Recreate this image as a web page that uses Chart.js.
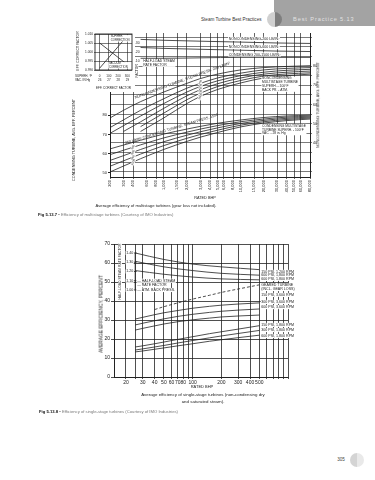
<!DOCTYPE html>
<html lang="en">
<head>
<meta charset="utf-8">
<title>Best Practice 5.13 - turbine efficiency</title>
<script src="https://cdn.jsdelivr.net/npm/chart.js@4.4.1/dist/chart.umd.min.js"></script>
<style>
  html, body { margin: 0; padding: 0; background: #fff; }
  body { position: relative; width: 375px; height: 480px; overflow: hidden;
         font-family: "Liberation Sans", Arial, sans-serif; color: #222; }
  canvas { position: absolute; }
  .t { position: absolute; white-space: nowrap; line-height: 1; }
  .l { transform: translate(0, -50%); }
  .c { transform: translate(-50%, -50%); }
  .v { transform: translate(-50%, -50%) rotate(-90deg); }
  #tab { position: absolute; left: 274px; top: 0; width: 101px; height: 26px; background: #a3a3a3; }
  #tabDot { position: absolute; left: 267px; top: 12px; width: 15px; height: 15px; border-radius: 50%;
            background: linear-gradient(90deg, #d0d0d0 50%, #7e7e7e 50%); }
  #pageDot { position: absolute; left: 350px; top: 453px; width: 14px; height: 14px; border-radius: 50%;
             background: linear-gradient(90deg, #d4d4d4 50%, #e9e9e9 50%); }
  .cap b { color: #111; }
  .cap span { color: #777; }
</style>
</head>
<body>
<div id="tab"></div><div id="tabDot"></div>
<div class="t l" style="left:201px;top:20px;font-size:4.6px;color:#333">Steam Turbine Best Practices</div>
<div class="t l" style="left:293px;top:19.5px;font-size:5.6px;letter-spacing:0.9px;color:#e2e2e2">Best Practice 5.13</div>

<canvas id="multi" width="300" height="172" style="left:40px;top:28px"></canvas>
<canvas id="inset" width="61" height="64" style="left:74px;top:28px"></canvas>
<div class="t v" style="left:79px;top:51px;font-size:3.4px">EFF. CORRECT FACTOR</div>
<div class="t v" style="left:75px;top:140px;font-size:3.8px">CONDENSING TURBINE, AVG. EFF. PERCENT</div>
<div class="t v" style="left:319px;top:105px;font-size:3.6px">NONCONDENSING TURBINE, AVG. EFF. PERCENT</div>
<div class="t c" style="left:205px;top:199px;font-size:3.8px">RATED BHP</div>
<div class="t c" style="left:156px;top:206px;font-size:4.2px">Average efficiency of multistage turbines (gear loss not included).</div>
<div class="t l cap" style="left:38px;top:215px;font-size:4.2px"><b>Fig 5.13.7</b> &bull; <span>Efficiency of multistage turbines (Courtesy of IMO Industries)</span></div>

<canvas id="single" width="220" height="152" style="left:80px;top:238px"></canvas>
<div class="t v" style="left:102px;top:314px;font-size:4.8px">AVERAGE EFFICIENCY, PERCENT</div>
<div class="t c" style="left:202px;top:387px;font-size:4px">RATED BHP</div>
<div class="t c" style="left:203px;top:395px;font-size:4.4px">Average efficiency of single-stage turbines (non-condensing dry</div>
<div class="t c" style="left:203px;top:402px;font-size:4.4px">and saturated steam).</div>
<div class="t l cap" style="left:39px;top:412px;font-size:4.2px"><b>Fig 5.13.8</b> &bull; <span>Efficiency of single-stage turbines (Courtesy of IMO Industries)</span></div>

<div class="t c" style="left:341px;top:460px;font-size:4.6px;color:#444">305</div>
<div id="pageDot"></div>

<script>
const INK = "#222"
const FONT = '"Liberation Sans", Arial, sans-serif'

// ---------- Fig 5.13.7 : multistage turbines ----------
const bhpTicks1 = [200, 300, 400, 600, 800, 1000, 1500, 2000, 3000, 4000, 5000, 6000, 8000, 10000, 15000, 20000, 30000, 40000, 50000, 60000, 80000]
const ncGridLines = [25, 30, 35, 40, 45, 50, 55, 60, 65, 70, 75, 80, 85, 90, 95]
const ncTickLabels = [40, 50, 60, 70, 80]
const condTickLabels = [50, 60, 70, 80]
const effBhp1 = [200, 300, 500, 1000, 2000, 3000, 5000, 10000, 20000, 40000, 80000]
const nonCond200 = [53, 57, 61.5, 66.5, 71, 73.5, 75.8, 78, 79.2, 79.8, 80.2]
const nonCond400 = [48, 52, 57, 63, 68.5, 71, 73.8, 76.3, 78, 78.8, 79.2]
const nonCond600 = [45, 49, 54, 60.5, 66.5, 69.4, 72.3, 75, 76.8, 77.8, 78.3]
const nonCond850 = [null, 46, 51, 58, 64.5, 67.7, 70.8, 73.8, 75.8, 76.8, 77.4]
const nonCond1200 = [null, null, 48.5, 55.5, 62.5, 65.9, 69.3, 72.5, 74.8, 75.9, 76.5]
const nonCond1500 = [null, null, 46, 53, 60.5, 64.2, 67.8, 71.2, 73.8, 75, 75.8]
const cond250 = [62.5, 64.5, 67, 70.2, 72.8, 74.2, 75.8, 77.5, 78.8, 79.6, 80]
const cond400 = [59.5, 61.8, 64.6, 68.2, 71.2, 72.8, 74.6, 76.6, 78, 79, 79.5]
const cond600 = [56.5, 59, 62.2, 66.2, 69.6, 71.4, 73.4, 75.7, 77.3, 78.4, 79]
const cond850 = [53.5, 56.3, 59.8, 64.2, 68, 70, 72.2, 74.8, 76.6, 77.8, 78.5]
const cond1500 = [50.5, 53.6, 57.4, 62.2, 66.4, 68.6, 71, 73.9, 75.9, 77.2, 78]
const halfBhp1 = [500, 1000, 3000, 10000, 30000, 80000]
const halfNonCond200 = [1.34, 1.33, 1.32, 1.31, 1.3, 1.295]
const halfNonCond600 = [1.25, 1.24, 1.23, 1.22, 1.21, 1.205]
const halfCond = [1.13, 1.13, 1.135, 1.14, 1.14, 1.14]
const factorTicks1 = [1.1, 1.2, 1.3]

// inset: efficiency correction factors
const superhF = [0, 100, 200, 300]
const superhFactor = [0.991, 0.997, 1.003, 1.009]
const vacInHg = [26, 27, 28, 29]
const vacFactor = [1.005, 1.001, 0.997, 0.993]
const insetTicks = [0.99, 0.995, 1.0, 1.005, 1.01]

// ---------- Fig 5.13.8 : single-stage turbines ----------
const bhpGrid2 = [20, 25, 30, 40, 50, 60, 70, 80, 90, 100, 200, 300, 400, 500, 600, 700, 800, 900, 1000]
const bhpTicks2 = [20, 30, 40, 50, 60, 70, 80, 100, 200, 300, 400, 500]
const effTicks2 = [0, 10, 20, 30, 40, 50, 60, 70]
const effBhp2 = [25, 30, 40, 50, 70, 100, 150, 200, 300, 500]
const psi150rpm3600 = [30.5, 31.4, 32.8, 33.8, 35, 36.2, 37.2, 37.8, 38.4, 39]
const psi300rpm3600 = [27.4, 28.3, 29.6, 30.6, 31.9, 33, 34, 34.6, 35.2, 35.8]
const psi600rpm3600 = [24.7, 25.6, 26.9, 27.9, 29.1, 30.1, 31, 31.6, 32.1, 32.6]
const psi150rpm1800 = [15.8, 16.4, 17.5, 18.4, 19.8, 21.2, 22.8, 23.8, 25.2, 27]
const psi300rpm1800 = [14.2, 14.8, 15.8, 16.6, 17.9, 19.2, 20.6, 21.6, 22.9, 24.5]
const psi600rpm1800 = [13.2, 13.7, 14.6, 15.3, 16.4, 17.5, 18.8, 19.6, 20.7, 22]
const gearedBhp = [40, 50, 70, 100, 150, 200, 300, 500]
const gearedEff = [35.5, 37, 39, 41, 43, 44.5, 46.3, 48.5]
const halfBhp2 = [25, 50, 100, 200, 500]
const halfFactorA = [1.4, 1.33, 1.28, 1.25, 1.22]
const halfFactorB = [1.31, 1.25, 1.21, 1.18, 1.16]
const halfFactorC = [1.21, 1.17, 1.14, 1.12, 1.11]
const factorTicks2 = [1.0, 1.1, 1.2, 1.3, 1.4]

// curve labels: [text, x (bhp), value, axis, rotation, size]
const multiNotes = [
  ["NONCONDENSING TURBINE, STEAM PRESS. 200 LB/IN\u00b2", 420, 63.5, "yNC", -20, 3.8],
  ["250 LB/IN\u00b2 CONDENSING TURBINE, STEAM PRESS. 1500", 316, 65.5, "yC", -17, 3.6],
  ["NONCONDENSING-200 LB/IN\u00b2", 7000, 1.345, "yF", 0, 3.6],
  ["NONCONDENSING-600 LB/IN\u00b2", 7000, 1.255, "yF", 0, 3.6],
  ["CONDENSING 200-1500 LB/IN\u00b2", 7000, 1.172, "yF", 0, 3.6],
  ["HALF-LOAD STEAM\nRATE FACTOR", 540, 1.1, "yF", 0, 3.4],
  ["NONCONDENSING\nMULTISTAGE TURBINE\nSUPERH. - 100\u00b0F\nBACK PR. - ATM.", 19000, 73.5, "yNC", 0, 3.3],
  ["CONDENSING MULTISTAGE\nTURBINE SUPERH. - 100\u00b0F\nVAC. - 28 in. Hg", 19000, 74.5, "yC", 0, 3.3]
]
const ncPressLabels = [["400", 3000, 71.5], ["600", 3000, 69.4], ["850", 3000, 67.7], ["1200", 3000, 65.9], ["1500", 3000, 64.2]]
const condPressLabels = [["400", 400, 63.3], ["600", 400, 60.7], ["850", 400, 58], ["1500", 400, 55.6]]
const singleNotes = [
  ["150 PSI, 1,200 RPM", 55.3], ["600 PSI, 1,800 RPM", 53.5], ["600 PSI, 1,800 RPM", 51.6],
  ["GEARED TURBINE", 48.4], ["(INCL. GEAR LOSS)", 46.3],
  ["150 PSI, 3,600 RPM", 43.2], ["300 PSI, 3,600 RPM", 39.5], ["600 PSI, 3,600 RPM", 36.8],
  ["150 PSI, 1,800 RPM", 27.4], ["300 PSI, 1,800 RPM", 24.7], ["600 PSI, 1,800 RPM", 21.6]
]

function curve(xs, ys, axis, extra) {
  return Object.assign({
    data: xs.map((x, i) => ({ x, y: ys[i] })).filter(p => p.y != null),
    yAxisID: axis,
    borderColor: INK,
    borderWidth: 0.8,
    pointRadius: 0,
    cubicInterpolationMode: "monotone",
    fill: false,
  }, extra)
}

function font(size, bold) {
  return (bold ? "bold " : "") + size + "px " + FONT
}

// draws a block of text with a white box behind it
function drawText(ctx, text, x, y, size, opts = {}) {
  const lines = text.split("\n")
  const lh = size * 1.15
  ctx.save()
  ctx.translate(x, y)
  ctx.rotate(((opts.rot || 0) * Math.PI) / 180)
  ctx.font = font(size, opts.bold)
  ctx.textAlign = opts.align || "left"
  ctx.textBaseline = "middle"
  if (opts.bg !== false) {
    const w = Math.max(...lines.map(l => ctx.measureText(l).width))
    const x0 = ctx.textAlign === "right" ? -w : ctx.textAlign === "center" ? -w / 2 : 0
    ctx.fillStyle = "#fff"
    ctx.fillRect(x0 - 0.6, -lh / 2, w + 1.2, lh * lines.length)
  }
  ctx.fillStyle = INK
  lines.forEach((l, i) => ctx.fillText(l, 0, i * lh))
  ctx.restore()
}

const baseOpts = {
  responsive: false,
  animation: false,
  events: [],
  plugins: { legend: { display: false }, tooltip: { enabled: false } },
}

// ---- multistage chart ----
const multiPlugin = {
  id: "multiNotes",
  afterDatasetsDraw(chart) {
    const { ctx, scales } = chart
    const x = scales.x
    // half-load factor axis labels
    const fx = x.getPixelForValue(500) - 1
    factorTicks1.forEach(v => {
      drawText(ctx, v.toFixed(2), fx, scales.yF.getPixelForValue(v), 3.4, { align: "right" })
    })
    drawText(ctx, "FACTOR", fx - 3, scales.yF.getPixelForValue(0.99), 3.3, { rot: -90, align: "center" })
    multiNotes.forEach(([text, bx, val, axis, rot, size]) => {
      drawText(ctx, text, x.getPixelForValue(bx), scales[axis].getPixelForValue(val), size, { rot, bg: rot === 0 })
    })
    ncPressLabels.forEach(([text, bx, val]) => {
      drawText(ctx, text, x.getPixelForValue(bx), scales.yNC.getPixelForValue(val), 3, { rot: -65, align: "center" })
    })
    condPressLabels.forEach(([text, bx, val]) => {
      drawText(ctx, text, x.getPixelForValue(bx), scales.yC.getPixelForValue(val), 3, { rot: -65, align: "center" })
    })
  },
}

new Chart(document.getElementById("multi"), {
  type: "line",
  data: {
    datasets: [
      curve(effBhp1, nonCond200, "yNC"),
      curve(effBhp1, nonCond400, "yNC"),
      curve(effBhp1, nonCond600, "yNC"),
      curve(effBhp1, nonCond850, "yNC"),
      curve(effBhp1, nonCond1200, "yNC"),
      curve(effBhp1, nonCond1500, "yNC"),
      curve(effBhp1, cond250, "yC"),
      curve(effBhp1, cond400, "yC"),
      curve(effBhp1, cond600, "yC"),
      curve(effBhp1, cond850, "yC"),
      curve(effBhp1, cond1500, "yC"),
      curve(halfBhp1, halfNonCond200, "yF"),
      curve(halfBhp1, halfNonCond600, "yF"),
      curve(halfBhp1, halfCond, "yF"),
    ],
  },
  options: {
    ...baseOpts,
    layout: { padding: { top: 5, left: 0, right: 0, bottom: 0 } },
    scales: {
      x: {
        type: "logarithmic",
        min: 200,
        max: 80000,
        afterBuildTicks: s => { s.ticks = bhpTicks1.map(v => ({ value: v })) },
        afterFit: s => { s.height = 23 },
        ticks: {
          autoSkip: false, minRotation: 90, maxRotation: 90, padding: 1,
          color: INK, font: { size: 4, family: FONT },
          callback: v => Number(v).toLocaleString("en-US"),
        },
        grid: { color: INK, lineWidth: 0.7, tickLength: 2 },
        border: { color: INK, width: 1 },
      },
      yC: {
        position: "left",
        min: 47.9,
        max: 122.7,
        afterBuildTicks: s => { s.ticks = condTickLabels.map(v => ({ value: v })) },
        afterFit: s => { s.width = 70 },
        ticks: { padding: 1, color: INK, font: { size: 4, family: FONT } },
        grid: { drawOnChartArea: false, color: INK, tickLength: 2 },
        border: { color: INK, width: 1 },
      },
      yNC: {
        position: "right",
        min: 22.3,
        max: 97.2,
        afterBuildTicks: s => { s.ticks = ncGridLines.map(v => ({ value: v })) },
        afterFit: s => { s.width = 30 },
        ticks: {
          autoSkip: false, padding: 1, color: INK, font: { size: 3.6, family: FONT },
          callback: v => (ncTickLabels.includes(v) ? v : ""),
        },
        grid: { color: INK, lineWidth: 0.6, tickLength: 2 },
        border: { color: INK, width: 1 },
      },
      yF: { display: false, min: -0.189, max: 1.411 },
    },
  },
  plugins: [multiPlugin],
})

// ---- correction factor inset ----
const insetPlugin = {
  id: "insetDecor",
  beforeDraw(chart) {
    const { ctx, width, height } = chart
    ctx.save()
    ctx.fillStyle = "#fff"
    ctx.fillRect(0, 0, width, height)
    ctx.restore()
  },
  afterDatasetsDraw(chart) {
    const { ctx, chartArea: a, scales } = chart
    ctx.save()
    ctx.strokeStyle = INK
    ctx.lineWidth = 0.9
    ctx.strokeRect(a.left, a.top, a.right - a.left, a.bottom - a.top)
    ctx.restore()
    const r1 = a.bottom + 6, r2 = a.bottom + 10
    drawText(ctx, "SUPERH. \u00b0F", 1, r1, 3, { bg: false })
    drawText(ctx, "VAC. IN Hg", 1, r2, 3, { bg: false })
    superhF.forEach(v => drawText(ctx, String(v), scales.xS.getPixelForValue(v), r1, 3, { align: "center", bg: false }))
    vacInHg.forEach(v => drawText(ctx, String(v), scales.xV.getPixelForValue(v), r2, 3, { align: "center", bg: false }))
    drawText(ctx, "EFF. CORRECT FACTOR", (a.left + a.right) / 2, a.bottom + 18, 3, { align: "center", bg: false })
    drawText(ctx, "SUPERH.\nCORRECTION", scales.xS.getPixelForValue(120), scales.y.getPixelForValue(1.0085), 2.8, {})
    drawText(ctx, "VACUUM\nCORRECTION", scales.xS.getPixelForValue(100), scales.y.getPixelForValue(0.9935), 2.8, {})
  },
}

new Chart(document.getElementById("inset"), {
  type: "line",
  data: {
    datasets: [
      curve(superhF, superhFactor, "y", { xAxisID: "xS" }),
      curve(vacInHg, vacFactor, "y", { xAxisID: "xV" }),
    ],
  },
  options: {
    ...baseOpts,
    layout: { padding: { top: 6, left: 0, right: 3, bottom: 22 } },
    scales: {
      xS: {
        type: "linear", position: "bottom", min: -50, max: 350,
        afterBuildTicks: s => { s.ticks = superhF.map(v => ({ value: v })) },
        ticks: { display: false },
        grid: { color: INK, lineWidth: 0.6, drawTicks: false },
        border: { display: false },
      },
      xV: { type: "linear", display: false, min: 25.5, max: 29.5 },
      y: {
        min: 0.99, max: 1.01,
        afterBuildTicks: s => { s.ticks = insetTicks.map(v => ({ value: v })) },
        afterFit: s => { s.width = 21 },
        ticks: { padding: 1, color: INK, font: { size: 3.2, family: FONT }, callback: v => Number(v).toFixed(3) },
        grid: { color: INK, lineWidth: 0.6, tickLength: 1 },
        border: { display: false },
      },
    },
  },
  plugins: [insetPlugin],
})

// ---- single-stage chart ----
const singlePlugin = {
  id: "singleNotes",
  afterDatasetsDraw(chart) {
    const { ctx, scales } = chart
    const { x, y, yF } = scales
    const ax = x.getPixelForValue(25)
    ctx.save()
    ctx.strokeStyle = INK
    ctx.lineWidth = 0.8
    ctx.beginPath()
    ctx.moveTo(ax, yF.getPixelForValue(1.0))
    ctx.lineTo(ax, yF.getPixelForValue(1.4))
    factorTicks2.forEach(v => {
      const py = yF.getPixelForValue(v)
      ctx.moveTo(ax - 1.5, py)
      ctx.lineTo(ax + 1.5, py)
    })
    ctx.stroke()
    ctx.restore()
    factorTicks2.forEach(v => drawText(ctx, v.toFixed(2), ax - 2, yF.getPixelForValue(v), 3.6, { align: "right" }))
    drawText(ctx, "HALF-LOAD STEAM RATE FACTOR", (chart.chartArea.left + x.getPixelForValue(20)) / 2,
      yF.getPixelForValue(1.2), 3.4, { rot: -90, align: "center" })
    drawText(ctx, "\u2014 HALF-LOAD STEAM", ax + 2, yF.getPixelForValue(1.1), 3.6, {})
    drawText(ctx, "\u2014 RATE FACTOR", ax + 2, yF.getPixelForValue(1.05), 3.6, {})
    drawText(ctx, "\u2014 ATM. BACK PRESS.", ax + 2, yF.getPixelForValue(1.0), 3.6, {})
    const lx = x.getPixelForValue(500) + 2
    singleNotes.forEach(([text, val]) => drawText(ctx, text, lx, y.getPixelForValue(val), 3.6, {}))
  },
}

new Chart(document.getElementById("single"), {
  type: "line",
  data: {
    datasets: [
      curve(halfBhp2, halfFactorA, "yF"),
      curve(halfBhp2, halfFactorB, "yF"),
      curve(halfBhp2, halfFactorC, "yF"),
      curve(gearedBhp, gearedEff, "y", { borderDash: [3, 2] }),
      curve(effBhp2, psi150rpm3600, "y"),
      curve(effBhp2, psi300rpm3600, "y"),
      curve(effBhp2, psi600rpm3600, "y"),
      curve(effBhp2, psi150rpm1800, "y"),
      curve(effBhp2, psi300rpm1800, "y"),
      curve(effBhp2, psi600rpm1800, "y"),
    ],
  },
  options: {
    ...baseOpts,
    layout: { padding: { top: 6, left: 0, right: 12, bottom: 0 } },
    scales: {
      x: {
        type: "logarithmic", min: 15, max: 1000,
        afterBuildTicks: s => { s.ticks = bhpGrid2.map(v => ({ value: v })) },
        afterFit: s => { s.height = 13 },
        ticks: {
          autoSkip: false, maxRotation: 0, padding: 1, color: INK, font: { size: 5, family: FONT },
          callback: v => (bhpTicks2.includes(v) ? v : ""),
        },
        grid: { color: INK, lineWidth: 0.8, tickLength: 2 },
        border: { color: INK, width: 1 },
      },
      y: {
        min: 0, max: 70,
        afterBuildTicks: s => { s.ticks = effTicks2.map(v => ({ value: v })) },
        afterFit: s => { s.width = 34 },
        ticks: { padding: 1, color: INK, font: { size: 5, family: FONT } },
        grid: { color: INK, lineWidth: 0.8, tickLength: 3 },
        border: { color: INK, width: 1 },
      },
      yF: { display: false, min: 0.0598, max: 1.497 },
    },
  },
  plugins: [singlePlugin],
})
</script>
</body>
</html>
